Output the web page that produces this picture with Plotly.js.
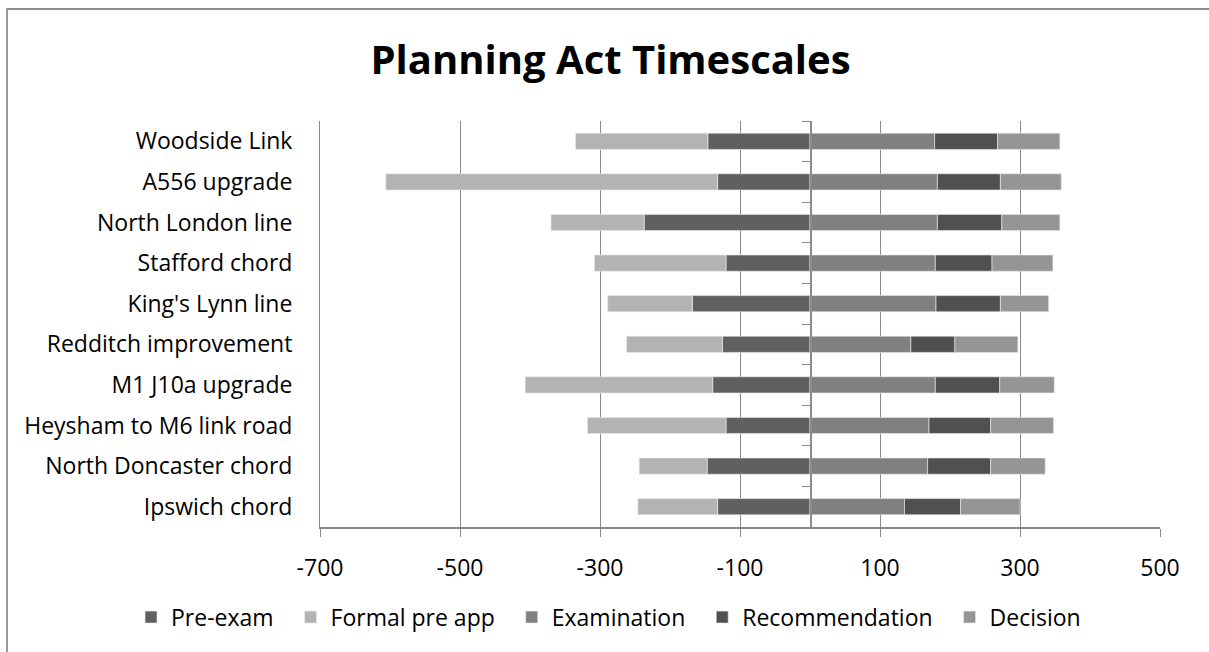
<!DOCTYPE html>
<html>
<head>
<meta charset="utf-8">
<script src="https://cdn.plot.ly/plotly-3.0.1.min.js"></script>
<style>
  html, body { margin: 0; padding: 0; background: #ffffff; overflow: hidden; width: 1209px; height: 652px; }
  #chart { position: absolute; left: 0; top: 0; width: 1209px; height: 652px; }
  #frameTop { position: absolute; left: 6px; top: 8px; width: 1203px; height: 2px; background: #8c8c8c; pointer-events: none; }
  #frameLeft { position: absolute; left: 6px; top: 8px; width: 2px; height: 644px; background: #9a9a9a; pointer-events: none; }
</style>
</head>
<body>
<div id="chart"></div>
<div id="frameTop"></div>
<div id="frameLeft"></div>
<script>
// Categories, top to bottom
const categories = [
  "Woodside Link",
  "A556 upgrade",
  "North London line",
  "Stafford chord",
  "King's Lynn line",
  "Redditch improvement",
  "M1 J10a upgrade",
  "Heysham to M6 link road",
  "North Doncaster chord",
  "Ipswich chord"
];

// Series (days); pre-application stages plotted as negative values
const preExam        = [-146, -132, -237, -120, -168, -125, -139, -120, -147, -132];
const formalPreApp   = [-189, -474, -133, -188, -121, -137, -268, -198,  -97, -114];
const examination    = [ 178,  182,  182,  179,  180,  144,  179,  170,  168,  135];
const recommendation = [  90,   90,   92,   81,   92,   63,   92,   88,   90,   80];
const decision       = [  89,   87,   83,   87,   69,   90,   78,   90,   78,   85];

const seriesNames = ["Pre-exam", "Formal pre app", "Examination", "Recommendation", "Decision"];
const xTickVals = [-700, -500, -300, -100, 100, 300, 500];

const colors = ["#606060", "#b3b3b3", "#808080", "#505050", "#959595"];
const seriesData = [preExam, formalPreApp, examination, recommendation, decision];

const FONT = "'Open Sans', 'Noto Sans', sans-serif";
const LEGEND_PAD = "\u00A0\u00A0"; // extra spacing between legend entries

const traces = seriesData.map((vals, i) => ({
  type: "bar",
  orientation: "h",
  name: seriesNames[i] + LEGEND_PAD,
  x: vals,
  y: categories,
  marker: { color: colors[i], line: { color: "rgba(235,235,235,0.8)", width: 0.8 } },
  hovertemplate: seriesNames[i] + ": %{x}<extra>%{y}</extra>"
}));

// invisible helper trace for the category axis drawn at zero
traces.push({
  type: "scatter",
  mode: "none",
  x: preExam,
  y: categories,
  yaxis: "y2",
  showlegend: false,
  hoverinfo: "skip"
});

const layout = {
  width: 1209,
  height: 652,
  margin: { l: 320, r: 49, t: 121, b: 125 },
  paper_bgcolor: "#ffffff",
  plot_bgcolor: "#ffffff",
  barmode: "relative",
  bargap: 0.6,
  font: { family: FONT, size: 20, color: "#000000" },
  title: {
    text: "<b>Planning Act Timescales</b>",
    font: { family: FONT, size: 40, color: "#000000" },
    x: 0.505, xanchor: "center",
    y: 0.908, yanchor: "middle", yref: "container"
  },
  xaxis: {
    range: [-700, 500],
    tickmode: "array",
    tickvals: xTickVals,
    ticktext: xTickVals.map(String),
    showgrid: true,
    gridcolor: "#8a8a8a",
    gridwidth: 1,
    zeroline: false,
    showline: true,
    linecolor: "#8a8a8a",
    linewidth: 1.5,
    ticks: "outside",
    ticklen: 8,
    tickcolor: "#8a8a8a",
    ticklabelstandoff: 12,
    tickfont: { family: FONT, size: 23, color: "#000000" },
    fixedrange: true
  },
  yaxis: {
    type: "category",
    categoryorder: "array",
    categoryarray: categories,
    range: [9.5, -0.5],
    showgrid: false,
    zeroline: false,
    showline: true,
    linecolor: "#8a8a8a",
    linewidth: 1,
    ticks: "",
    ticklabelstandoff: 22,
    tickfont: { family: FONT, size: 23, color: "#000000" },
    fixedrange: true
  },
  yaxis2: {
    type: "category",
    categoryorder: "array",
    categoryarray: categories,
    range: [9.5, -0.5],
    overlaying: "y",
    anchor: "free",
    position: 700 / 1200,
    side: "left",
    showgrid: false,
    zeroline: false,
    showline: true,
    linecolor: "#8a8a8a",
    linewidth: 1.5,
    ticks: "outside",
    tickson: "boundaries",
    ticklen: 8,
    tickcolor: "#8a8a8a",
    showticklabels: false,
    fixedrange: true
  },
  legend: {
    orientation: "h",
    x: -0.225, xanchor: "left",
    y: -0.222, yanchor: "middle",
    font: { family: FONT, size: 23, color: "#000000" },
    traceorder: "normal",
    itemwidth: 30
  },
  showlegend: true
};

Plotly.newPlot("chart", traces, layout, { staticPlot: true, displayModeBar: false });
</script>
</body>
</html>
